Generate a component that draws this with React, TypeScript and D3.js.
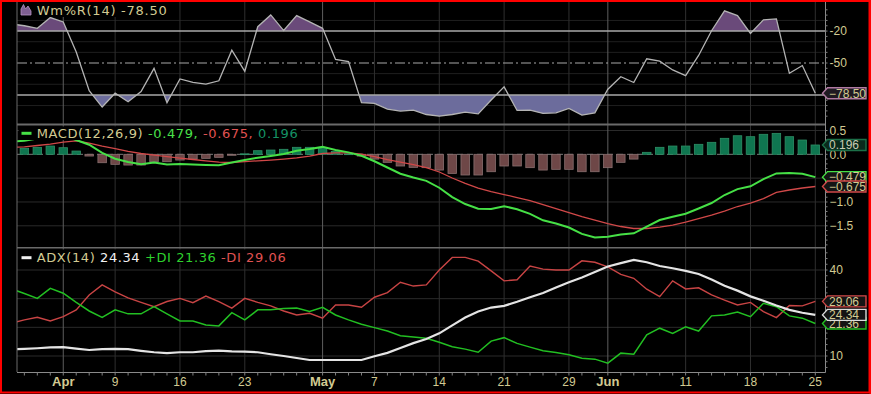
import React from "react";
import * as d3 from "d3";

// ---- data (trading days, Mar 27 – Jun 25) ----
const dates = [
  "03-27","03-28","03-29","03-30",
  "04-02","04-03","04-04","04-05",
  "04-09","04-10","04-11","04-12","04-13",
  "04-16","04-17","04-18","04-19","04-20",
  "04-23","04-24","04-25","04-26","04-27","04-30",
  "05-01","05-02","05-03","05-04",
  "05-07","05-08","05-09","05-10","05-11",
  "05-14","05-15","05-16","05-17","05-18",
  "05-21","05-22","05-23","05-24","05-25",
  "05-29","05-30","05-31","06-01",
  "06-04","06-05","06-06","06-07","06-08",
  "06-11","06-12","06-13","06-14","06-15",
  "06-18","06-19","06-20","06-21","06-22",
  "06-25",
];

const williamsR = [
  -13.3, -15, -17.4, -7.3, -11.4, -39.7, -76, -91.4, -78.4, -86.4,
  -76.8, -55, -87.3, -65, -68.3, -69.8, -66.7, -38, -57.8, -15.9,
  -4.8, -19.5, -5.4, -11.4, -17.4, -46.7, -48.6, -87.3, -87.9, -93.3,
  -95.2, -94.3, -98.4, -100, -98.4, -96.2, -97.8, -84.8, -72.4, -94.6,
  -94.3, -97.4, -96.8, -92.7, -99, -96.8, -74.6, -62.9, -68.3, -46,
  -48.3, -56.5, -61.9, -42.9, -19.7, -1, -5.4, -22.2, -9.5, -8.6,
  -59.7, -52.4, -78.5,
];

const macdLine = [
  0.27, 0.283, 0.332, 0.39, 0.397, 0.30, 0.201, 0.03, -0.092, -0.162,
  -0.208, -0.174, -0.215, -0.205, -0.215, -0.225, -0.23, -0.17, -0.12, -0.07,
  -0.035, 0.006, 0.074, 0.111, 0.156, 0.091, 0.041, -0.03, -0.146, -0.277,
  -0.407, -0.487, -0.557, -0.701, -0.897, -1.043, -1.141, -1.146, -1.089, -1.152,
  -1.25, -1.384, -1.453, -1.536, -1.67, -1.744, -1.732, -1.683, -1.657, -1.515,
  -1.379, -1.31, -1.247, -1.137, -1.022, -0.854, -0.73, -0.67, -0.52, -0.40,
  -0.39, -0.41, -0.479,
];

const signalLine = [
  0.143, 0.157, 0.185, 0.216, 0.258, 0.283, 0.237, 0.174, 0.118, 0.063,
  0.017, -0.019, -0.05, -0.078, -0.109, -0.136, -0.162, -0.172, -0.155, -0.136,
  -0.12, -0.099, -0.073, -0.036, 0.017, 0.031, 0.031, 0.006, -0.046, -0.109,
  -0.162, -0.214, -0.277, -0.371, -0.497, -0.609, -0.707, -0.781, -0.844, -0.907,
  -0.97, -1.054, -1.138, -1.221, -1.305, -1.379, -1.452, -1.515, -1.557, -1.557,
  -1.526, -1.484, -1.421, -1.347, -1.274, -1.19, -1.095, -1.022, -0.928, -0.80,
  -0.749, -0.707, -0.675,
];

const histogram = [
  0.12, 0.126, 0.147, 0.174, 0.139, 0.069, -0.036, -0.176, -0.21, -0.225,
  -0.225, -0.155, -0.155, -0.12, -0.1, -0.084, -0.063, -0.02, 0.01, 0.076,
  0.09, 0.105, 0.147, 0.147, 0.139, 0.06, 0.01, -0.036, -0.1, -0.168,
  -0.245, -0.273, -0.28, -0.33, -0.4, -0.434, -0.434, -0.365, -0.245, -0.245,
  -0.28, -0.33, -0.315, -0.315, -0.365, -0.365, -0.28, -0.168, -0.1, 0.042,
  0.147, 0.174, 0.174, 0.21, 0.252, 0.336, 0.39, 0.37, 0.42, 0.44,
  0.37, 0.3, 0.196,
];

const adx = [
  12.3, 12.5, 12.7, 13.0, 13.1, 12.6, 12.1, 12.4, 12.5, 12.4,
  11.8, 11.3, 11.0, 11.3, 11.3, 11.7, 11.9, 11.6, 11.5, 11.3,
  10.6, 10.0, 9.3, 8.6, 8.6, 8.6, 8.6, 8.6, 9.9, 11.1,
  12.8, 14.5, 15.9, 17.9, 20.7, 23.4, 25.5, 26.9, 27.5, 28.9,
  30.5, 32.0, 33.9, 35.7, 37.4, 39.3, 41.2, 42.4, 43.5, 42.7,
  41.4, 40.6, 39.7, 38.6, 36.7, 34.5, 32.8, 30.8, 29.3, 27.6,
  26.1, 25.1, 24.34,
];

const plusDI = [
  33.4, 31.8, 30.1, 33.6, 31.9, 28.7, 25.7, 23.5, 26.1, 24.7,
  24.7, 27.2, 24.7, 22.2, 22.2, 20.8, 20.5, 25.1, 22.6, 26.1,
  26.1, 26.6, 26.7, 25.5, 27.0, 24.3, 22.6, 21.1, 19.9, 18.7,
  17.1, 16.6, 16.2, 14.8, 13.2, 12.4, 11.3, 15.2, 16.4, 14.4,
  13.1, 11.8, 11.2, 10.4, 9.2, 8.9, 7.5, 11.0, 10.6, 17.4,
  19.7, 17.9, 20.2, 18.7, 24.0, 24.3, 25.3, 23.7, 28.4, 27.2,
  24.0, 23.2, 21.36,
];

const minusDI = [
  21.5, 22.6, 23.5, 22.2, 23.7, 26.1, 31.3, 34.8, 32.4, 30.3,
  28.7, 27.2, 29.0, 30.1, 28.6, 30.9, 29.0, 26.7, 30.1, 28.7,
  27.5, 25.7, 24.3, 24.9, 23.2, 27.8, 27.8, 27.0, 30.5, 32.1,
  35.7, 34.4, 34.8, 40.0, 44.4, 44.4, 43.1, 39.7, 36.2, 36.6,
  41.4, 40.3, 40.0, 40.0, 43.2, 42.7, 41.1, 38.5, 37.1, 33.3,
  30.7, 36.2, 33.4, 33.8, 31.3, 29.5, 27.8, 28.7, 25.5, 23.4,
  27.6, 27.5, 29.06,
];

const tickDates = ["04-02","04-09","04-16","04-23","05-01","05-07","05-14","05-21","05-29","06-01","06-11","06-18","06-25"];
const tickLabels = ["Apr","9","16","23","May","7","14","21","29","Jun","11","18","25"];
const monthTicks = ["Apr","May","Jun"];

const wmAxisTicks = [-20, -50, -80];
const macdAxisTicks = [0.5, 0, -0.5, -1, -1.5];
const adxAxisTicks = [40, 30, 20, 10];

const KHAKI = "#d2ca92";
const FONT = "'Liberation Sans', Arial, sans-serif";
const LFONT = "'DejaVu Sans', Verdana, sans-serif";

export default function App() {
  const W = 871, H = 394;
  const L = 17, R = 825;
  const P1 = [2, 124], P2 = [125, 247], P3 = [248, 372];
  const n = dates.length;
  const idx = d3.range(n);
  const last = n - 1;

  const x = d3.scaleLinear().domain([0, n - 1]).range([11.4, 815.3]);
  const yW = d3.scaleLinear().domain([0, -100]).range([9.8, 116.2]);
  const yM = d3.scaleLinear().domain([0.5, -1.5]).range([130.5, 225.8]);
  const yA = d3.scaleLinear().domain([40, 10]).range([270, 356]);

  const mk = (arr: number[], ys: d3.ScaleLinear<number, number>) =>
    d3.line<number>().x((i) => x(i)).y((i) => ys(arr[i]))(idx) || "";

  const areaUp = d3.area<number>().x((i) => x(i)).y0(yW(-20)).y1((i) => yW(williamsR[i]))(idx) || "";
  const areaDn = d3.area<number>().x((i) => x(i)).y0(yW(-80)).y1((i) => yW(williamsR[i]))(idx) || "";

  const tickIdx = tickDates.map((d) => dates.indexOf(d));

  // callout centres, used also to hide axis labels sitting under them
  const cW = [yW(williamsR[last])];
  const cM = [yM(histogram[last]), yM(macdLine[last]), yM(signalLine[last])];
  const cA = [yA(minusDI[last]), yA(plusDI[last]), yA(adx[last])];
  const free = (y: number, cs: number[]) => cs.every((c) => Math.abs(c - y) > 9);

  const callout = (yc: number, text: string, stroke: string, fill: string, tfill: string, key: string) => {
    const x0 = 822.5, x1 = 866, h = 11;
    const pts = `${x0},${yc} ${x0 + 5},${yc - h / 2} ${x1},${yc - h / 2} ${x1},${yc + h / 2} ${x0 + 5},${yc + h / 2}`;
    return (
      <g key={key}>
        <polygon points={pts} fill={fill} stroke={stroke} strokeWidth={1.4} />
        <text x={829} y={yc} dy="0.36em" fontFamily={FONT} fontSize={12} fill={tfill}>{text}</text>
      </g>
    );
  };

  const minorTicks = (ys: d3.ScaleLinear<number, number>, vals: number[], y0: number, y1: number) =>
    vals.filter((v) => ys(v) > y0 + 1 && ys(v) < y1 - 1).map((v, k) => (
      <line key={k} x1={R} x2={R + 2.5} y1={ys(v)} y2={ys(v)} stroke="#808080" strokeWidth={1} />
    ));

  return (
    <svg width={W} height={H} style={{ position: "fixed", left: 0, top: 0, display: "block", background: "#000" }}>
      <defs>
        <clipPath id="c1"><rect x={L} y={P1[0]} width={R - L} height={P1[1] - P1[0]} /></clipPath>
        <clipPath id="c1u"><rect x={L} y={P1[0]} width={R - L} height={yW(-20) - P1[0]} /></clipPath>
        <clipPath id="c1d"><rect x={L} y={yW(-80)} width={R - L} height={P1[1] - yW(-80)} /></clipPath>
        <clipPath id="c2"><rect x={L} y={P2[0]} width={R - L} height={P2[1] - P2[0]} /></clipPath>
        <clipPath id="c3"><rect x={L} y={P3[0]} width={R - L} height={P3[1] - P3[0]} /></clipPath>
      </defs>
      <rect x={0} y={0} width={W} height={H} fill="#000" />

      {/* horizontal grid */}
      {[-10, -30, -40, -60, -70, -90].map((v) => (
        <line key={"g1" + v} x1={L} x2={R} y1={yW(v)} y2={yW(v)} stroke="#1f1f1f" strokeWidth={1} />
      ))}
      {[0.5, -0.5, -1, -1.5].map((v) => (
        <line key={"g2" + v} x1={L} x2={R} y1={yM(v)} y2={yM(v)} stroke="#2a2a2a" strokeWidth={1} />
      ))}
      {[40, 30, 20, 10].map((v) => (
        <line key={"g3" + v} x1={L} x2={R} y1={yA(v)} y2={yA(v)} stroke="#2a2a2a" strokeWidth={1} />
      ))}

      {/* vertical grid */}
      {tickIdx.map((ti, k) => (
        <line key={"vg" + k} x1={x(ti)} x2={x(ti)} y1={P1[0]} y2={P3[1]}
          stroke={monthTicks.includes(tickLabels[k]) ? "#5e5e5e" : "#2f2f2f"} strokeWidth={1} />
      ))}

      {/* ---- Panel 1: Williams %R ---- */}
      <path d={areaUp} fill="#6a4a7a" clipPath="url(#c1u)" />
      <path d={areaDn} fill="#6c6c9c" clipPath="url(#c1d)" />
      <line x1={L} x2={R} y1={yW(-20)} y2={yW(-20)} stroke="#a8a8a8" strokeWidth={1.5} />
      <line x1={L} x2={R} y1={yW(-80)} y2={yW(-80)} stroke="#a8a8a8" strokeWidth={1.5} />
      <line x1={L} x2={R} y1={yW(-50)} y2={yW(-50)} stroke="#a8a8a8" strokeWidth={1.2} strokeDasharray="10,3,2,3" />
      <path d={mk(williamsR, yW)} fill="none" stroke="#b4b4b4" strokeWidth={1.3} clipPath="url(#c1)" />

      {/* ---- Panel 2: MACD ---- */}
      <line x1={L} x2={R} y1={yM(0)} y2={yM(0)} stroke="#7a7a7a" strokeWidth={1} strokeDasharray="6,4" />
      <g clipPath="url(#c2)">
        {idx.map((i) => {
          const v = histogram[i];
          const y0 = yM(0), y1 = yM(v);
          return (
            <rect key={"h" + i} x={x(i) - 4.25} width={8.5} y={Math.min(y0, y1)} height={Math.max(0.8, Math.abs(y1 - y0))}
              fill={v >= 0 ? "#0f7650" : "#6e4747"} stroke={v >= 0 ? "#2f8f66" : "#8a7070"} strokeWidth={0.8} />
          );
        })}
        <path d={mk(signalLine, yM)} fill="none" stroke="#d04848" strokeWidth={1.3} />
        <path d={mk(macdLine, yM)} fill="none" stroke="#46e046" strokeWidth={2} />
      </g>

      {/* ---- Panel 3: ADX ---- */}
      <g clipPath="url(#c3)">
        <path d={mk(minusDI, yA)} fill="none" stroke="#c84444" strokeWidth={1.4} />
        <path d={mk(plusDI, yA)} fill="none" stroke="#22bf22" strokeWidth={1.5} />
        <path d={mk(adx, yA)} fill="none" stroke="#e4e4e4" strokeWidth={2.2} />
      </g>

      {/* legends */}
      <rect x={19} y={2} width={150} height={15} fill="#000" />
      <path d="M21,15 L21,9 L23.5,4.5 L25.5,9 L28,6 L31,11 L31,15 Z" fill="#7f5f92" stroke="#b796c4" strokeWidth={0.8} />
      <text x={36.7} y={15} fontFamily={LFONT} fontSize={13} fill={KHAKI} textLength={130} lengthAdjust="spacing">Wm%R(14) -78.50</text>

      <rect x={19} y={126.5} width={282} height={13.5} fill="#000" />
      <line x1={21.5} x2={31.5} y1={133.3} y2={133.3} stroke="#46e046" strokeWidth={3} />
      <text x={36.7} y={138.3} fontFamily={LFONT} fontSize={13} textLength={261} lengthAdjust="spacing">
        <tspan fill={KHAKI}>MACD(12,26,9) </tspan>
        <tspan fill="#4ae04a">-0.479, </tspan>
        <tspan fill="#e05252">-0.675, </tspan>
        <tspan fill="#159265">0.196</tspan>
      </text>

      <rect x={19} y={249.5} width={270} height={14} fill="#000" />
      <line x1={21.5} x2={31.5} y1={257.7} y2={257.7} stroke="#f0f0f0" strokeWidth={3} />
      <text x={36.7} y={262} fontFamily={LFONT} fontSize={13} textLength={249} lengthAdjust="spacing">
        <tspan fill={KHAKI}>ADX(14) </tspan>
        <tspan fill="#f2f2f2">24.34 </tspan>
        <tspan fill="#2ed12e">+DI 21.36 </tspan>
        <tspan fill="#e05252">-DI 29.06</tspan>
      </text>

      {/* panel borders */}
      <line x1={L} x2={L} y1={P1[0]} y2={P3[1]} stroke="#6a6a6a" strokeWidth={1} />
      <line x1={L} x2={R} y1={124.5} y2={124.5} stroke="#6a6a6a" strokeWidth={2} />
      <line x1={L} x2={R} y1={247.8} y2={247.8} stroke="#6a6a6a" strokeWidth={1.5} />
      <line x1={L} x2={R + 0.5} y1={372.5} y2={372.5} stroke="#8a8a8a" strokeWidth={1} />
      <line x1={R + 0.5} x2={R + 0.5} y1={P1[0]} y2={372.5} stroke="#8a8a8a" strokeWidth={1} />

      {/* right axis ticks */}
      {minorTicks(yW, d3.range(0, -101, -5), P1[0], P1[1])}
      {minorTicks(yM, d3.range(0.6, -2.0, -0.1), P2[0], P2[1])}
      {minorTicks(yA, d3.range(4, 48, 2), P3[0], P3[1])}

      {/* x axis ticks */}
      {idx.filter((i) => x(i) > L).map((i) => (
        <line key={"xt" + i} x1={x(i)} x2={x(i)} y1={372.5} y2={375.5} stroke="#808080" strokeWidth={1} />
      ))}
      {tickIdx.map((ti, k) => (
        <text key={"xl" + k} x={x(ti)} y={385.5} textAnchor="middle" fontFamily={FONT}
          fontSize={monthTicks.includes(tickLabels[k]) ? 13 : 12}
          fontWeight={monthTicks.includes(tickLabels[k]) ? "bold" : "normal"} fill={KHAKI}>
          {tickLabels[k]}
        </text>
      ))}

      {/* right axis labels (those hidden under value callouts are skipped) */}
      {wmAxisTicks.filter((v) => free(yW(v), cW)).map((v) => (
        <text key={"wl" + v} x={829.5} y={yW(v)} dy="0.36em" fontFamily={FONT} fontSize={12} fill={KHAKI}>{v}</text>
      ))}
      {macdAxisTicks.filter((v) => free(yM(v), cM)).map((v) => (
        <text key={"ml" + v} x={829.5} y={yM(v)} dy="0.36em" fontFamily={FONT} fontSize={12} fill={KHAKI}>{d3.format(".1f")(v)}</text>
      ))}
      {adxAxisTicks.filter((v) => free(yA(v), cA)).map((v) => (
        <text key={"al" + v} x={829.5} y={yA(v)} dy="0.36em" fontFamily={FONT} fontSize={12} fill={KHAKI}>{v}</text>
      ))}

      {/* callouts */}
      {callout(cW[0], d3.format(".2f")(williamsR[last]), "#b07aa2", "#201a22", KHAKI, "cw")}
      {callout(cM[0], d3.format(".3f")(histogram[last]), "#1c7048", "#0a2a1c", "#c8ccb4", "ch")}
      {callout(cM[1], d3.format(".3f")(macdLine[last]), "#46e046", "#141414", KHAKI, "cm")}
      {callout(cM[2], d3.format(".3f")(signalLine[last]), "#d04848", "#141414", KHAKI, "cs")}
      {callout(cA[0], d3.format(".2f")(minusDI[last]), "#d04848", "#141414", KHAKI, "cmd")}
      {callout(cA[1], d3.format(".2f")(plusDI[last]), "#22bf22", "#141414", KHAKI, "cpd")}
      {callout(cA[2], d3.format(".2f")(adx[last]), "#dcdcdc", "#141414", KHAKI, "ca")}

      {/* red frame */}
      <rect x={1} y={1} width={868.5} height={391.5} fill="none" stroke="#ff0000" strokeWidth={2} />
      <rect x={869.5} y={0} width={1.5} height={H} fill="#ff0000" />
    </svg>
  );
}
